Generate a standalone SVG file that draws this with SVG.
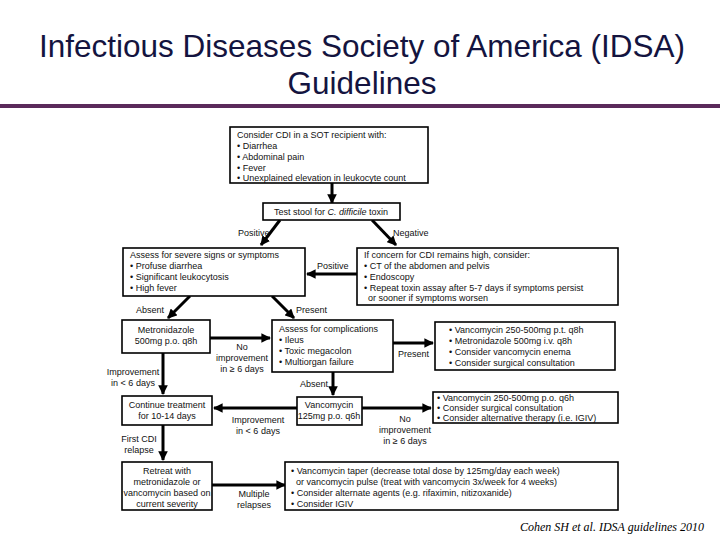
<svg xmlns="http://www.w3.org/2000/svg" width="720" height="540" viewBox="0 0 720 540">
<defs>
<marker id="ah" viewBox="0 0 10 10" refX="9" refY="5" markerWidth="3.2" markerHeight="3.2" orient="auto"><path d="M0,0L10,5L0,10z" fill="#000"/></marker>
<style>
.b{fill:#fff;stroke:#000;stroke-width:1.6}
.t{font-family:"Liberation Sans",Arial,sans-serif;font-size:9px;fill:#111}
.c{text-anchor:middle}
.a{stroke:#000;stroke-width:3;fill:none;marker-end:url(#ah)}
</style>
</defs>
<rect width="720" height="540" fill="#fff"/>
<g id="title" font-family="Liberation Sans,Arial,sans-serif" font-size="31.5" fill="#14143f" text-anchor="middle">
<text x="362" y="57">Infectious Diseases Society of America (IDSA)</text>
<text x="362" y="94">Guidelines</text>
</g>
<rect x="0" y="104" width="720" height="4" fill="#5b2a5b"/>
<g id="connectors">
<line class="a" x1="332" y1="183" x2="332" y2="203"/>
<line class="a" x1="280" y1="220" x2="261" y2="245"/>
<line class="a" x1="372" y1="220" x2="396" y2="245"/>
<line class="a" x1="357" y1="274" x2="307" y2="274"/>
<line class="a" x1="190" y1="296" x2="168" y2="318"/>
<line class="a" x1="272" y1="296" x2="294" y2="318"/>
<line class="a" x1="210" y1="338" x2="270" y2="338"/>
<line class="a" x1="393" y1="343" x2="433" y2="343"/>
<line class="a" x1="163" y1="353" x2="163" y2="394"/>
<line class="a" x1="333" y1="372" x2="333" y2="395"/>
<line class="a" x1="297" y1="408" x2="214" y2="408"/>
<line class="a" x1="362" y1="408" x2="431" y2="408"/>
<line class="a" x1="163" y1="425" x2="163" y2="460"/>
<line class="a" x1="212" y1="485" x2="285" y2="485"/>
</g>
<g id="labels" class="t">
<text class="t" x="238" y="236">Positive</text>
<text class="t" x="393" y="236">Negative</text>
<text class="t" x="317" y="269">Positive</text>
<text class="t" x="136" y="313">Absent</text>
<text class="t" x="296" y="313">Present</text>
<text class="t c" x="242" y="350">No</text>
<text class="t c" x="242" y="361">improvement</text>
<text class="t c" x="242" y="372">in ≥ 6 days</text>
<text class="t" x="398" y="357">Present</text>
<text class="t c" x="133" y="375">Improvement</text>
<text class="t c" x="133" y="386">in &lt; 6 days</text>
<text class="t" x="300" y="387">Absent</text>
<text class="t c" x="258" y="423">Improvement</text>
<text class="t c" x="258" y="434">in &lt; 6 days</text>
<text class="t c" x="405" y="422">No</text>
<text class="t c" x="405" y="433">improvement</text>
<text class="t c" x="405" y="444">in ≥ 6 days</text>
<text class="t c" x="139" y="442">First CDI</text>
<text class="t c" x="139" y="453">relapse</text>
<text class="t c" x="254" y="497">Multiple</text>
<text class="t c" x="254" y="508">relapses</text>
</g>
<g id="n1"><rect class="b" x="230" y="127" width="198" height="56"/>
<text class="t" x="237" y="138">Consider CDI in a SOT recipient with:</text>
<text class="t" x="237" y="149">• Diarrhea</text><text class="t" x="237" y="160">• Abdominal pain</text>
<text class="t" x="237" y="171">• Fever</text><text class="t" x="237" y="181">• Unexplained elevation in leukocyte count</text></g>
<g id="n2"><rect class="b" x="263" y="203" width="137" height="17"/>
<text class="t c" x="331" y="215">Test stool for <tspan font-style="italic">C. difficile</tspan> toxin</text></g>
<g id="n3"><rect class="b" x="123" y="248" width="182" height="48"/>
<text class="t" x="130" y="258">Assess for severe signs or symptoms</text>
<text class="t" x="130" y="269">• Profuse diarrhea</text><text class="t" x="130" y="280">• Significant leukocytosis</text>
<text class="t" x="130" y="291">• High fever</text></g>
<g id="n4"><rect class="b" x="357" y="248" width="261" height="57"/>
<text class="t" x="364" y="258">If concern for CDI remains high, consider:</text>
<text class="t" x="364" y="269">• CT of the abdomen and pelvis</text><text class="t" x="364" y="280">• Endoscopy</text>
<text class="t" x="364" y="291">• Repeat toxin assay after 5-7 days if symptoms persist</text>
<text class="t" x="368" y="301">or sooner if symptoms worsen</text></g>
<g id="n5"><rect class="b" x="122" y="320" width="88" height="33"/>
<text class="t c" x="166" y="333">Metronidazole</text><text class="t c" x="166" y="344">500mg p.o. q8h</text></g>
<g id="n6"><rect class="b" x="272" y="320" width="121" height="52"/>
<text class="t" x="279" y="332">Assess for complications</text>
<text class="t" x="279" y="343">• Ileus</text><text class="t" x="279" y="354">• Toxic megacolon</text>
<text class="t" x="279" y="365">• Multiorgan failure</text></g>
<g id="n7"><rect class="b" x="435" y="322" width="180" height="48"/>
<text class="t" x="449" y="333">• Vancomycin 250-500mg p.t. q8h</text>
<text class="t" x="449" y="344">• Metronidazole 500mg i.v. q8h</text>
<text class="t" x="449" y="355">• Consider vancomycin enema</text>
<text class="t" x="449" y="366">• Consider surgical consultation</text></g>
<g id="n8"><rect class="b" x="122" y="396" width="90" height="29"/>
<text class="t c" x="167" y="408">Continue treatment</text><text class="t c" x="167" y="419">for 10-14 days</text></g>
<g id="n9"><rect class="b" x="297" y="397" width="65" height="28"/>
<text class="t c" x="329" y="408">Vancomycin</text><text class="t c" x="329" y="419">125mg p.o. q6h</text></g>
<g id="n10"><rect class="b" x="433" y="392" width="185" height="31"/>
<text class="t" x="437" y="401" font-size="8.6">• Vancomycin 250-500mg p.o. q6h</text>
<text class="t" x="437" y="411" font-size="8.6">• Consider surgical consultation</text>
<text class="t" x="437" y="420.5" font-size="8.6">• Consider alternative therapy (i.e. IGIV)</text></g>
<g id="n11"><rect class="b" x="122" y="462" width="90" height="48"/>
<text class="t c" x="167" y="474">Retreat with</text><text class="t c" x="167" y="485">metronidazole or</text>
<text class="t c" x="167" y="496">vancomycin based on</text><text class="t c" x="167" y="507">current severity</text></g>
<g id="n12"><rect class="b" x="285" y="462" width="333" height="48"/>
<text class="t" x="291" y="474">• Vancomycin taper (decrease total dose by 125mg/day each week)</text>
<text class="t" x="296" y="485">or vancomycin pulse (treat with vancomycin 3x/week for 4 weeks)</text>
<text class="t" x="291" y="496">• Consider alternate agents (e.g. rifaximin, nitizoxanide)</text>
<text class="t" x="291" y="507">• Consider IGIV</text></g>
<text x="612" y="531" text-anchor="middle" font-family="Liberation Serif,serif" font-style="italic" font-size="12" fill="#000">Cohen SH et al. IDSA guidelines 2010</text>
</svg>
